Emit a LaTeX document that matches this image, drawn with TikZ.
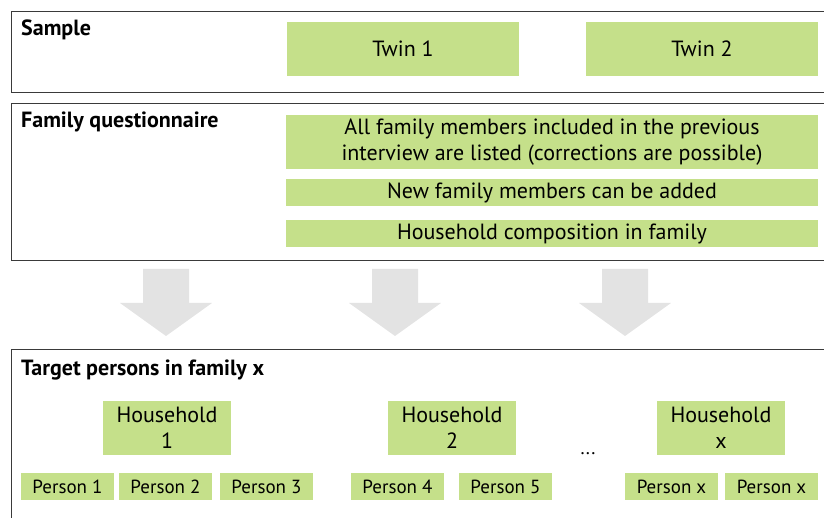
\documentclass[tikz,border=0pt]{standalone}
\usepackage{fontspec}
\setmainfont{PT Sans}
\usetikzlibrary{positioning}
\definecolor{BoxGreen}{HTML}{C5E08A}
\definecolor{FrameGrey}{HTML}{3A3A3A}
\definecolor{ArrowGrey}{HTML}{E3E3E3}

\begin{document}
\begin{tikzpicture}[x=1pt, y=-1pt,
    frame/.style = {draw=FrameGrey, line width=1pt, anchor=north west,
      minimum width=830pt, inner sep=0pt},
    heading/.style = {anchor=base west, inner sep=0pt,
      font=\bfseries\fontsize{22}{25}\selectfont},
    box/.style = {fill=BoxGreen, inner sep=0pt, align=center,
      minimum height=54pt, font=\fontsize{22}{25.5}\selectfont},
    thinbox/.style = {box, minimum height=27pt},
    person/.style = {thinbox, minimum width=93pt,
      font=\fontsize{19}{22}\selectfont}
  ]
  \useasboundingbox (0,0) rectangle (824,518);

  % frames
  \node (sample) [frame, minimum height=81pt] at (11,11) {};
  \node (famq) [frame, minimum height=157pt] at (11,103) {};
  \node (target) [frame, minimum height=190pt] at (11,349) {};

  \node (sampleT) [heading] at (21,36) {Sample};
  \node (famqT) [heading] at (21,128) {Family questionnaire};
  \node (targetT) [heading] at (21,375) {Target persons in family x};

  % sample
  \node (twinA) [box, minimum width=232pt] at (403,49) {Twin 1};
  \node (twinB) [box, minimum width=232pt] at (702,49) {Twin 2};

  % questionnaire steps
  \node (listed) [box, minimum width=532pt] at (552,142)
    {All family members included in the previous\\
     interview are listed (corrections are possible)};
  \node (added) [thinbox, minimum width=532pt] at (552,192.5)
    {New family members can be added};
  \node (hhcomp) [thinbox, minimum width=532pt] at (552,233.5)
    {Household composition in family};

  % big grey arrows
  \foreach \ax in {166,395,625}
    \fill [ArrowGrey] (\ax-23,269) -- (\ax+23,269) -- (\ax+23,303)
      -- (\ax+46,303) -- (\ax,336) -- (\ax-46,303) -- (\ax-23,303) -- cycle;

  % households
  \node (hhA) [box, minimum width=128pt] at (167,428) {Household\\1};
  \node (hhB) [box, minimum width=128pt] at (452,428) {Household\\2};
  \node (hhX) [box, minimum width=128pt] at (721,428) {Household\\x};
  \node (dots) [anchor=base, inner sep=0pt, font=\fontsize{19}{22}\selectfont]
    at (588,454) {...};

  % persons
  \node (pA) [person] at (67.5,486.5) {Person 1};
  \node (pB) [person] at (165.5,486.5) {Person 2};
  \node (pC) [person] at (266.5,486.5) {Person 3};
  \node (pD) [person] at (397.5,486.5) {Person 4};
  \node (pE) [person] at (505.5,486.5) {Person 5};
  \node (pX) [person] at (671.5,486.5) {Person x};
  \node (pY) [person] at (771.5,486.5) {Person x};
\end{tikzpicture}
\end{document}
